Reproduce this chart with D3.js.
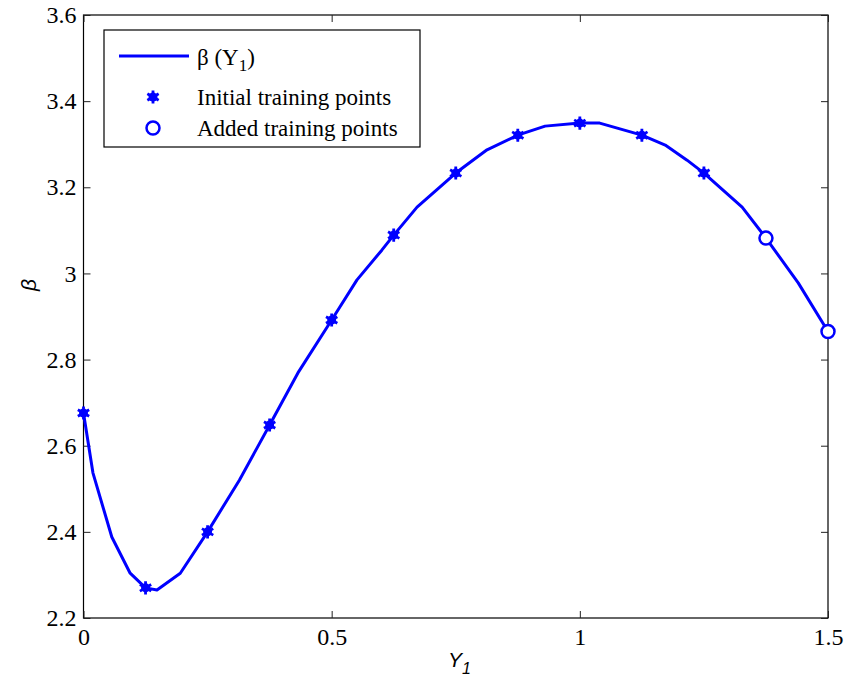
<!DOCTYPE html>
<html>
<head>
<meta charset="utf-8">
<script src="https://cdn.jsdelivr.net/npm/d3@7"></script>
<style>
  body { margin: 0; background: #fff; }
  text { fill: #000; }
</style>
</head>
<body>
<script>
'use strict';

// curve beta(Y1)
const curveX = [0, 0.019, 0.057, 0.094, 0.125, 0.148, 0.195, 0.25, 0.314, 0.375, 0.432, 0.5, 0.551, 0.601, 0.625,
  0.672, 0.75, 0.813, 0.875, 0.93, 1.0, 1.04, 1.125, 1.172, 1.216, 1.25, 1.327, 1.375, 1.44, 1.5];
const curveY = [2.676, 2.537, 2.388, 2.304, 2.27, 2.265, 2.304, 2.40, 2.52, 2.648, 2.769, 2.892, 2.985, 3.054, 3.089,
  3.154, 3.233, 3.287, 3.321, 3.342, 3.349, 3.349, 3.321, 3.298, 3.263, 3.233, 3.154, 3.082, 2.978, 2.865];

// initial training points
const initX = [0, 0.125, 0.25, 0.375, 0.5, 0.625, 0.75, 0.875, 1.0, 1.125, 1.25];
const initY = [2.676, 2.27, 2.40, 2.648, 2.892, 3.089, 3.233, 3.321, 3.349, 3.321, 3.233];

// added training points
const addX = [1.375, 1.5];
const addY = [3.082, 2.865];

const xTicks = [0, 0.5, 1, 1.5];
const yTicks = [2.2, 2.4, 2.6, 2.8, 3, 3.2, 3.4, 3.6];

const blue = '#0000ff';
const serif = '"Liberation Serif", "Times New Roman", serif';
const sans = '"Liberation Sans", Arial, sans-serif';

let svg = d3.select('body').append('svg')
  .attr('width', 848)
  .attr('height', 689);

let xScale = d3.scaleLinear().domain([0, 1.5]).range([83.5, 828]);
let yScale = d3.scaleLinear().domain([2.2, 3.6]).range([618, 15]);

// axes box
svg.append('rect')
  .attr('x', 83.5).attr('y', 15)
  .attr('width', 828 - 83.5).attr('height', 618 - 15)
  .attr('fill', 'none').attr('stroke', '#000').attr('stroke-width', 1.2);

// inward ticks on all four sides, labels only bottom/left
let fmt = d => String(+d.toFixed(1));
let xAxis = d3.axisBottom(xScale).tickValues(xTicks).tickSizeInner(-7).tickSizeOuter(0).tickPadding(12).tickFormat(fmt);
let yAxis = d3.axisLeft(yScale).tickValues(yTicks).tickSizeInner(-7).tickSizeOuter(0).tickPadding(14).tickFormat(fmt);

let gx = svg.append('g').attr('transform', 'translate(0,618)').call(xAxis);
let gy = svg.append('g').attr('transform', 'translate(83.5,0)').call(yAxis);
svg.append('g').attr('transform', 'translate(0,15)')
  .call(d3.axisTop(xScale).tickValues(xTicks).tickSizeInner(-7).tickSizeOuter(0).tickFormat(''));
svg.append('g').attr('transform', 'translate(828,0)')
  .call(d3.axisRight(yScale).tickValues(yTicks).tickSizeInner(-7).tickSizeOuter(0).tickFormat(''));

svg.selectAll('.domain').remove();
svg.selectAll('.tick line').attr('stroke', '#222');
[gx, gy].forEach(g => g.attr('font-family', serif).attr('font-size', 24));
gx.selectAll('.tick text').attr('y', 10);
gy.selectAll('.tick text').attr('x', -7);

// curve
let pts = curveX.map((x, i) => [x, curveY[i]]);
let line = d3.line().x(d => xScale(d[0])).y(d => yScale(d[1]));
svg.append('path')
  .datum(pts)
  .attr('d', line)
  .attr('fill', 'none')
  .attr('stroke', blue)
  .attr('stroke-width', 3)
  .attr('stroke-linejoin', 'round');

// star-like markers
function drawStar(g, cx, cy) {
  g.append('path')
    .attr('transform', `translate(${cx},${cy})`)
    .attr('d', d3.symbol(d3.symbolAsterisk, 120)())
    .attr('fill', 'none')
    .attr('stroke', blue)
    .attr('stroke-width', 2.8);
  g.append('circle')
    .attr('cx', cx).attr('cy', cy).attr('r', 4.5)
    .attr('fill', blue);
}

let gm = svg.append('g');
initX.forEach((x, i) => drawStar(gm, xScale(x), yScale(initY[i])));

svg.selectAll('.added')
  .data(addX.map((x, i) => [x, addY[i]]))
  .enter()
  .append('circle')
    .attr('class', 'added')
    .attr('cx', d => xScale(d[0]))
    .attr('cy', d => yScale(d[1]))
    .attr('r', 6.5)
    .attr('fill', '#fff')
    .attr('stroke', blue)
    .attr('stroke-width', 2.5);

// legend
let lg = svg.append('g').style('font-family', serif).style('font-size', '23px');
lg.append('rect')
  .attr('x', 104).attr('y', 30).attr('width', 316).attr('height', 117)
  .attr('fill', '#fff').attr('stroke', '#000').attr('stroke-width', 1.2);
lg.append('line')
  .attr('x1', 119).attr('x2', 189).attr('y1', 56).attr('y2', 56)
  .attr('stroke', blue).attr('stroke-width', 3);
let t1 = lg.append('text').attr('x', 197).attr('y', 65);
t1.append('tspan').text('\u03b2 (Y');
t1.append('tspan').attr('dy', 6).style('font-size', '17px').text('1');
t1.append('tspan').attr('dy', -6).text(')');
drawStar(lg, 153, 97);
lg.append('text').attr('x', 197).attr('y', 105).text('Initial training points');
lg.append('circle').attr('cx', 153).attr('cy', 128).attr('r', 6.5)
  .attr('fill', '#fff').attr('stroke', blue).attr('stroke-width', 2.5);
lg.append('text').attr('x', 197).attr('y', 136).text('Added training points');

// axis labels
let xl = svg.append('text')
  .attr('x', 448).attr('y', 667)
  .style('font-family', sans)
  .style('font-size', '21px')
  .style('font-style', 'italic');
xl.append('tspan').text('Y');
xl.append('tspan').attr('dy', 7).style('font-size', '16px').text('1');

svg.append('text')
  .attr('transform', 'translate(36,285)rotate(-90)')
  .attr('text-anchor', 'middle')
  .style('font-family', sans)
  .style('font-size', '21px')
  .style('font-style', 'italic')
  .text('\u03b2');
</script>
</body>
</html>
